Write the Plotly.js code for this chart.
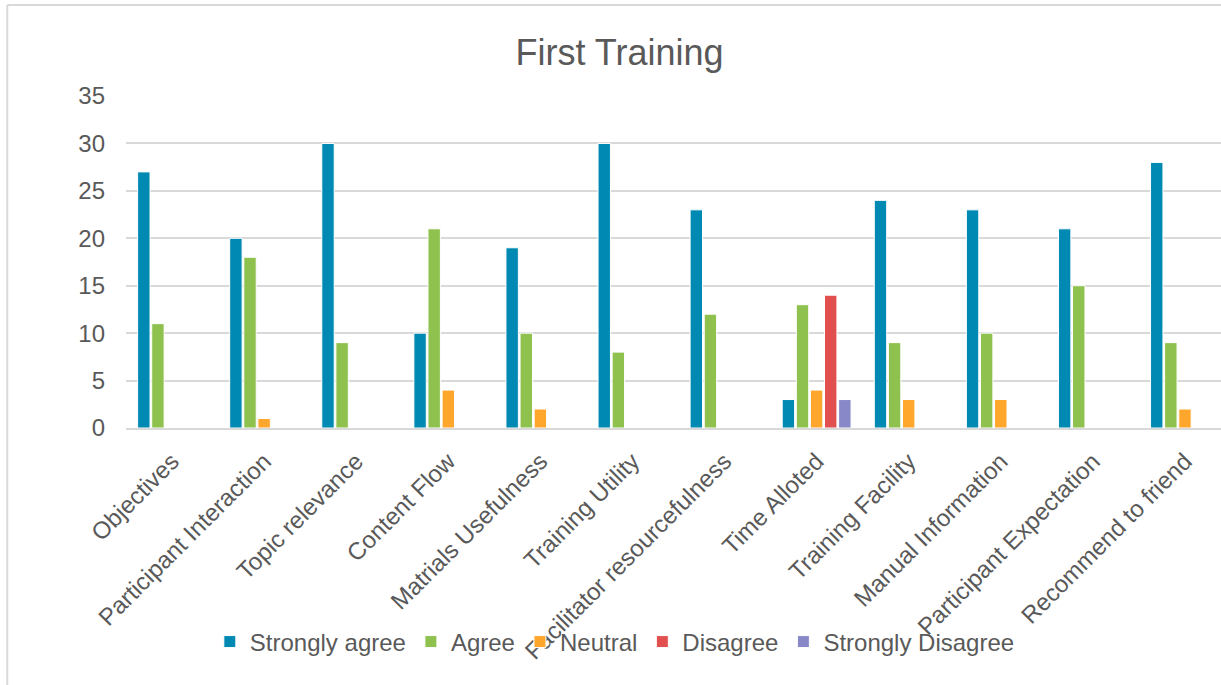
<!DOCTYPE html>
<html>
<head>
<meta charset="utf-8">
<script src="https://cdn.plot.ly/plotly-3.0.1.min.js"></script>
<style>
html,body{margin:0;padding:0;overflow:hidden;background:#fff;}
#chart{width:1240px;height:685px;}
</style>
</head>
<body>
<div id="chart"></div>
<script>
var categories = ["Objectives","Participant Interaction","Topic relevance","Content Flow","Matrials Usefulness","Training Utility","Facilitator resourcefulness","Time Alloted","Training Facility","Manual Information","Participant Expectation","Recommend to friend"];
var seriesNames = ["Strongly agree","Agree","Neutral","Disagree","Strongly Disagree"];
var stronglyAgree    = [27, 20, 30, 10, 19, 30, 23, 3, 24, 23, 21, 28];
var agree            = [11, 18, 9, 21, 10, 8, 12, 13, 9, 10, 15, 9];
var neutral          = [null, 1, null, 4, 2, null, null, 4, 3, 3, null, 2];
var disagree         = [null, null, null, null, null, null, null, 14, null, null, null, null];
var stronglyDisagree = [null, null, null, null, null, null, null, 3, null, null, null, null];
var yTicks = [0, 5, 10, 15, 20, 25, 30, 35];

var colors = ["#0089B3", "#8FC14E", "#FFA72C", "#E24F4F", "#8888C8"];
var allSeries = [stronglyAgree, agree, neutral, disagree, stronglyDisagree];

var FONT = "Liberation Sans, Arial, Helvetica, sans-serif";
var GREY = "#595959";

var traces = allSeries.map(function(vals, i){
  return {
    type: "bar",
    name: seriesNames[i],
    x: categories,
    y: vals,
    marker: {color: colors[i], line: {color: "#ffffff", width: 1}},
    hoverinfo: "x+y+name"
  };
});

var W = 1240, H = 685;
var mL = 126.2, mR = W - 1230.9, mT = 95.7, mB = H - 428.5;
var plotW = W - mL - mR, plotH = H - mT - mB;
var bx = (7.5 - mL) / plotW, by = (428.5 - 4.5) / plotH;

var layout = {
  width: W, height: H,
  margin: {l: mL, r: mR, t: mT, b: mB, pad: 0},
  paper_bgcolor: "#ffffff",
  plot_bgcolor: "#ffffff",
  barmode: "group",
  bargap: 0.234,
  bargroupgap: 0.12,
  title: {
    text: "First Training",
    font: {family: FONT, size: 36, color: GREY},
    x: 619.5 / W, xref: "container", xanchor: "center",
    y: 1 - 52.5 / H, yref: "container", yanchor: "middle"
  },
  font: {family: FONT, color: GREY},
  xaxis: {
    type: "category",
    tickangle: -45,
    tickfont: {family: FONT, size: 24, color: GREY},
    showgrid: false,
    showline: true,
    linecolor: "#d9d9d9",
    linewidth: 1.5,
    ticks: "",
    ticklabelstandoff: 8,
    fixedrange: true
  },
  yaxis: {
    range: [0, 35],
    tickvals: yTicks,
    ticktext: yTicks.map(String),
    tickfont: {family: FONT, size: 24, color: GREY},
    showgrid: true,
    gridcolor: "#d9d9d9",
    gridwidth: 1.5,
    zeroline: false,
    showline: false,
    ticks: "",
    ticklabelstandoff: 20,
    fixedrange: true
  },
  showlegend: true,
  legend: {
    orientation: "h",
    x: (210 - mL) / plotW, xanchor: "left",
    y: (428.5 - 643) / plotH, yanchor: "middle",
    font: {family: FONT, size: 24, color: GREY},
    bgcolor: "rgba(0,0,0,0)",
    traceorder: "normal",
    itemclick: false
  },
  shapes: [
    {type: "line", xref: "paper", yref: "paper", x0: bx, x1: bx, y0: -1.5, y1: by, line: {color: "#d9d9d9", width: 2}},
    {type: "line", xref: "paper", yref: "paper", x0: bx, x1: 1.2, y0: by, y1: by, line: {color: "#d9d9d9", width: 2}}
  ]
};

Plotly.newPlot("chart", traces, layout, {displayModeBar: false, staticPlot: false});
</script>
</body>
</html>
